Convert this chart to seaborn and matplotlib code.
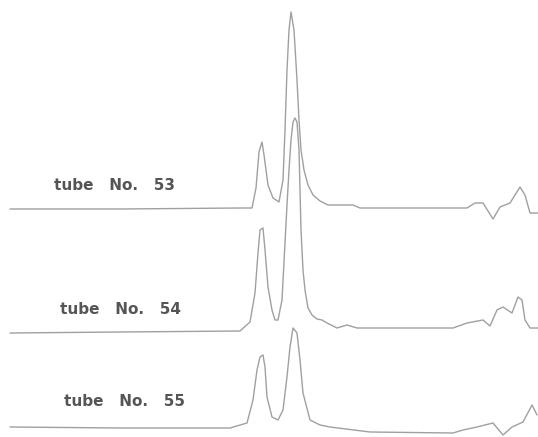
import numpy as np
import pandas as pd
import seaborn as sns
import matplotlib.pyplot as plt

# Chromatogram traces (time in arbitrary units, signal height above baseline)
time_53 = [10, 120, 240, 252, 256, 259, 262, 264, 268, 273, 279, 283, 285, 287, 289, 291,
           294, 297, 299, 301, 304, 308, 313, 320, 328, 353, 360, 420, 467, 475, 483,
           493, 500, 510, 520, 525, 530, 538]
signal_53 = [0, 0, 1, 1, 21, 57, 67, 54, 24, 11, 7, 29, 79, 139, 179, 197,
             179, 129, 89, 59, 39, 24, 14, 8, 4, 4, 1, 1, 1, 6, 6,
             -10, 2, 6, 22, 14, -4, -4]

time_54 = [10, 120, 240, 250, 255, 258, 260, 263, 265, 268, 272, 275, 278, 282, 285, 287,
           289, 291, 293, 295, 297, 299, 300, 301, 303, 305, 308, 312, 317, 322, 327,
           337, 347, 357, 453, 467, 483, 490, 497, 503, 512, 518, 522, 525, 530, 538]
signal_54 = [0, 1, 2, 11, 40, 80, 103, 105, 83, 46, 23, 13, 13, 33, 90, 128,
             163, 193, 211, 215, 211, 183, 143, 103, 63, 43, 25, 18, 14, 13, 10,
             5, 8, 5, 5, 10, 13, 7, 23, 26, 20, 36, 33, 13, 5, 5]

time_55 = [10, 120, 230, 247, 253, 257, 260, 263, 265, 267, 272, 278, 283, 287, 290, 293,
           297, 300, 303, 310, 320, 330, 370, 453, 463, 477, 493, 503, 512, 523, 532, 537]
signal_55 = [1, 0, 0, 5, 28, 58, 71, 73, 61, 31, 11, 8, 18, 51, 81, 100,
             95, 68, 35, 8, 3, 1, -4, -5, -2, 1, 5, -7, 1, 6, 23, 13]

tubes = ['tube   No.   53', 'tube   No.   54', 'tube   No.   55']

# stacking of the traces and label placement
offsets = [228, 104, 9]
label_x = [54, 60, 64]
label_y = [251, 128, 35]

traces = [(time_53, signal_53), (time_54, signal_54), (time_55, signal_55)]

sns.set_style("white")
fig = plt.figure(figsize=(5.38, 4.37), dpi=100)
ax = fig.add_axes([0, 0, 1, 1])

for (t, s), off in zip(traces, offsets):
    df = pd.DataFrame({'time': t, 'signal': np.array(s) + off})
    sns.lineplot(data=df, x='time', y='signal', sort=False, estimator=None,
                 color='#a0a0a0', linewidth=1.0, ax=ax)

for name, lx, ly in zip(tubes, label_x, label_y):
    ax.text(lx, ly, name, ha='left', va='center', fontsize=11, fontweight='bold',
            color='#555555', family=['DejaVu Sans'])

ax.set_xlim(0, 538)
ax.set_ylim(0, 437)
ax.set_axis_off()

plt.savefig('out.png', dpi=100, facecolor='white')
